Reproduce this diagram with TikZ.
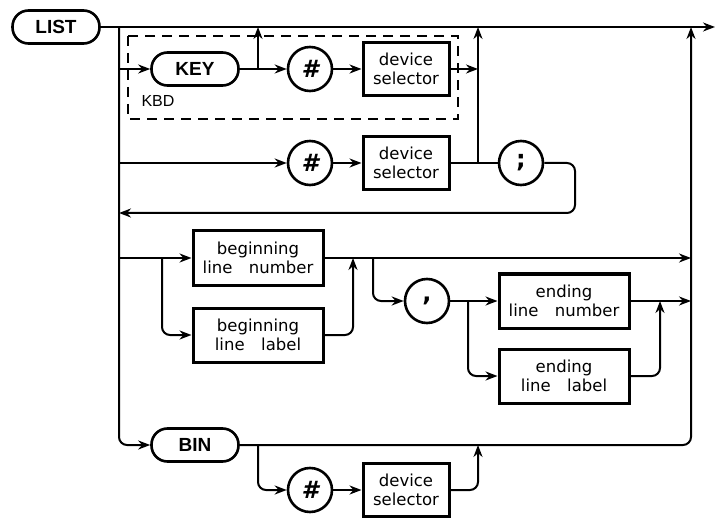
\documentclass[tikz,border=0pt]{standalone}
\usepackage{fontspec}
\setmainfont{DejaVu Sans}
\newfontfamily\kwfont{Liberation Sans}
\usetikzlibrary{arrows.meta}

\tikzset{
	rail/.style={line width=2pt, rounded corners=8pt},
	keyword/.style={draw, line width=2.6pt, rounded corners=16pt, minimum width=87pt, minimum height=33pt, inner sep=0pt, font=\kwfont\bfseries\fontsize{19}{20}\selectfont},
	itembox/.style={draw, line width=3pt, inner sep=0pt, align=center, font=\fontsize{16.5}{19}\selectfont},
	selbox/.style={itembox, minimum width=86pt, minimum height=53pt},
	linebox/.style={itembox, minimum width=130pt, minimum height=54pt},
	symb/.style={draw, circle, line width=2.6pt, minimum size=44pt, inner sep=0pt, font=\bfseries\fontsize{24}{24}\selectfont},
}

\begin{document}
\begin{tikzpicture}[x=1pt, y=-1pt, >={Stealth[length=12pt,width=9pt]}]
	\useasboundingbox (0,0) rectangle (717,521);

	% Statement and options
	\node[keyword] (list) at (56,27) {LIST};
	\node[keyword] (key) at (195,69) {KEY};
	\node[keyword] (bin) at (195,445) {BIN};

	% Device selector rows
	\node[symb] (hashA) at (310,69) {\itshape\#};
	\node[selbox] (devA) at (406,69) {device\\selector};
	\node[symb] (hashB) at (310,163) {\itshape\#};
	\node[selbox] (devB) at (406,163) {device\\selector};
	\node[symb] (semi) at (521,163) {;};
	\node[symb] (hashC) at (310,490) {\itshape\#};
	\node[selbox] (devC) at (406,490) {device\\selector};

	% Line ranges
	\node[linebox] (bln) at (258,258) {beginning\\line\quad number};
	\node[linebox] (bll) at (258,335) {beginning\\line\quad label};
	\node[symb] (comma) at (427,301) {,};
	\node[linebox] (eln) at (564,301) {ending\\line\quad number};
	\node[linebox] (ell) at (564,376) {ending\\line\quad label};

	% Keyboard box
	\draw[line width=1.5pt, dash pattern=on 10pt off 7pt] (128,36) rectangle (458,119);
	\node[anchor=base west, font=\kwfont\fontsize{16}{16}\selectfont] (kbd) at (138,107) {KBD};

	% Rail points
	\coordinate (mainend) at (715,27);
	\coordinate (splitL) at (119,27);
	\coordinate (keyin) at (119,69);
	\coordinate (keyout) at (258,69);
	\coordinate (keyup) at (258,27);
	\coordinate (kbdout) at (478,69);
	\coordinate (devjoin) at (478,163);
	\coordinate (devup) at (478,27);
	\coordinate (hashin) at (119,163);
	\coordinate (loop) at (575,213);
	\coordinate (retend) at (119,213);
	\coordinate (bgin) at (119,258);
	\coordinate (bgsplit) at (162,258);
	\coordinate (bgup) at (353,258);
	\coordinate (endsplit) at (373,258);
	\coordinate (rightA) at (691,258);
	\coordinate (ensplit) at (468,301);
	\coordinate (enup) at (660,301);
	\coordinate (rightB) at (691,301);
	\coordinate (rightup) at (691,27);
	\coordinate (binsplit) at (258,445);
	\coordinate (binup) at (478,445);

	% Connections
	\draw[rail,->] (list) -- (mainend);
	\draw[rail,->] (splitL) |- (bin);
	\draw[rail,->] (keyin) -- (key);
	\draw[rail,->] (key) -- (hashA);
	\draw[rail,->] (keyout) -- (keyup);
	\draw[rail,->] (hashA) -- (devA);
	\draw[rail,->] (devA) -- (kbdout);
	\draw[rail,->] (devjoin) -- (devup);
	\draw[rail,->] (hashin) -- (hashB);
	\draw[rail,->] (hashB) -- (devB);
	\draw[rail] (devB) -- (semi);
	\draw[rail,->] (semi) -| (loop) -- (retend);
	\draw[rail,->] (bgin) -- (bln);
	\draw[rail,->] (bgsplit) |- (bll);
	\draw[rail,->] (bln) -- (rightA);
	\draw[rail,->] (bll) -| (bgup);
	\draw[rail,->] (endsplit) |- (comma);
	\draw[rail,->] (comma) -- (eln);
	\draw[rail,->] (ensplit) |- (ell);
	\draw[rail,->] (eln) -- (rightB);
	\draw[rail,->] (ell) -| (enup);
	\draw[rail,->] (bin) -| (rightup);
	\draw[rail,->] (binsplit) |- (hashC);
	\draw[rail,->] (hashC) -- (devC);
	\draw[rail,->] (devC) -| (binup);
\end{tikzpicture}
\end{document}
